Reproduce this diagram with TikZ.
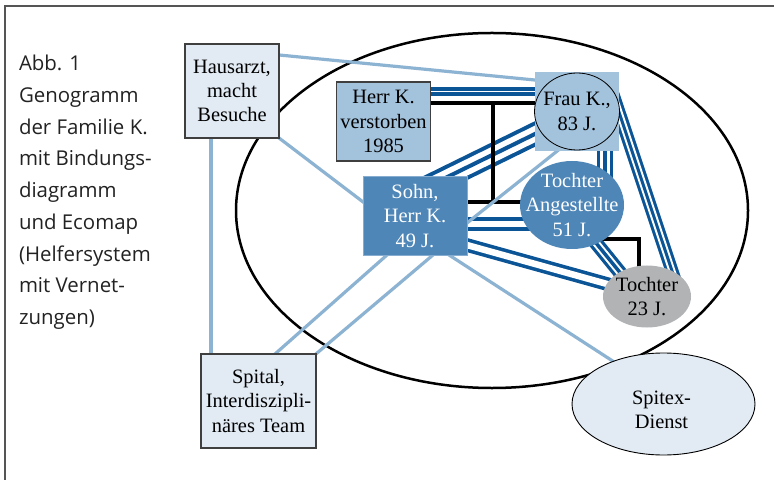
\documentclass[tikz,border=0pt]{standalone}
\usepackage{fontspec}
\setmainfont{Liberation Serif}
\newfontfamily\capfont{Open Sans}
\usetikzlibrary{calc,shapes.geometric,backgrounds}
\definecolor{lightfill}{HTML}{E2EBF4}
\definecolor{midfill}{HTML}{A3C2DC}
\definecolor{darkfill}{HTML}{4E86B8}
\definecolor{grayfill}{HTML}{B1B3B5}
\definecolor{lline}{HTML}{8DB3D3}
\definecolor{dline}{HTML}{0B5597}
\definecolor{boxline}{HTML}{3F3F3F}
\definecolor{sohnline}{HTML}{86ADD0}
\definecolor{framecol}{HTML}{555555}
\definecolor{capcol}{HTML}{222222}
\begin{document}
\begin{tikzpicture}[x=1bp,y=-1bp,line join=miter,
  every node/.style={inner sep=0pt,outer sep=0pt,align=center,font=\fontsize{20.5}{24.3}\selectfont},
  lightbox/.style={rectangle,draw=boxline,line width=1.2bp,fill=lightfill},
  midbox/.style={rectangle,draw=boxline,line width=1.2bp,fill=midfill},
  lb/.style={draw=lline,line width=3.2bp},
  blk/.style={draw=black,line width=3.6bp},
  triA/.style={preaction={draw=dline,line width=23bp},preaction={draw=white,line width=15bp},draw=dline,line width=4bp},
  triB/.style={preaction={draw=dline,line width=16.5bp},preaction={draw=white,line width=9.5bp},draw=dline,line width=3.5bp},
  triC/.style={preaction={draw=dline,line width=13bp},preaction={draw=white,line width=7bp},draw=dline,line width=3bp},
  triD/.style={preaction={draw=dline,line width=14bp},preaction={draw=white,line width=7.5bp},draw=dline,line width=3.5bp},
  dblA/.style={draw=dline,double=white,double distance=1.2bp,line width=4bp},
  dblB/.style={draw=dline,double=white,double distance=6bp,line width=3.6bp},
  dblC/.style={draw=dline,double=white,double distance=6.5bp,line width=3.6bp}
]
\useasboundingbox (0,0) rectangle (774,480);
\draw[framecol,line width=1.8bp] (5,480) -- (5,6) -- (774,6);

\node[anchor=north west,align=left,text=capcol,font=\capfont\fontsize{20.5}{31.9}\selectfont] (caption) at (19,55)
  {Abb. 1\\Genogramm\\der Familie K.\\mit Bindungs-\\diagramm\\und Ecomap\\(Helfersystem\\mit Vernet-\\zungen)};

\node[lightbox,minimum width=94bp,minimum height=94bp] (haus) at (232,91) {Hausarzt,\\macht\\Besuche};
\node[midbox,minimum width=94bp,minimum height=79bp] (herr) at (383.5,121.5) {Herr K.\\verstorben\\1985};
\node[fill=midfill,minimum width=84bp,minimum height=79bp] (frau) at (577,111.5) {};
\node[ellipse,draw=black,line width=0.8bp,minimum width=85bp,minimum height=77bp,
      label={center:{Frau K.,\\83 J.}}] (fraukreis) at (frau) {};
\node[draw=sohnline,line width=1bp,fill=darkfill,text=white,minimum width=104bp,minimum height=78bp] (sohn) at (415,216) {Sohn,\\Herr K.\\49 J.};
\node[ellipse,fill=darkfill,minimum width=104bp,minimum height=88bp,
      label={[text=white]center:{Tochter\\Angestellte\\51 J.}}] (tang) at (572,205) {};
\node[ellipse,fill=grayfill,minimum width=88bp,minimum height=62bp,
      label={center:{Tochter\\23 J.}}] (t23) at (647,296.5) {};
\node[lightbox,minimum width=115bp,minimum height=94bp] (spital) at (258.5,401) {Spital,\\Interdiszipli-\\näres Team};
\node[ellipse,draw=black,line width=0.9bp,fill=lightfill,minimum width=183bp,minimum height=102bp,
      label={[xshift=-2bp,yshift=-6bp]center:{Spitex-\\Dienst}}] (spitex) at (663.5,404) {};

\begin{scope}[on background layer]
\draw[line width=2.5bp] (492,210.5) ellipse [x radius=256bp, y radius=177.5bp];
% dark blue relationship lines
\draw[dblA] ($(herr)+(36.5,-30)$) -- ($(frau)+(-32,-20)$);
\draw[triA] ($(frau)+(-31.3,17.2)$) -- ($(sohn)+(11,-28.5)$);
\draw[triB] ($(frau)+(28,30)$) -- ($(tang)+(33,-20)$);
\draw[triC] ($(frau)+(32.5,-27.9)$) -- ($(t23)+(30,-10.5)$);
\draw[dblB] ($(sohn)+(40,8)$) -- ($(tang)+(-30,19)$);
\draw[dblC] ($(sohn)+(40,25.7)$) -- ($(t23)+(-27,-8.9)$);
\draw[triD] ($(tang)+(17.7,30.2)$) -- ($(t23)+(-18.7,-13.7)$);
% black genogram lines
\draw[blk] ($(herr)+(36.5,-18.5)$) -- ($(frau)+(-32,-8.5)$);
\coordinate (ehe) at ($(herr)+(109.5,-18.5)$);
\draw[blk] ($(sohn)+(40,-14)$) -- ($(tang)+(-30,-3)$);
\draw[blk,line cap=rect] (ehe) -- ($(sohn)+(78,-14)$);
\draw[blk] ($(tang)+(28,34)$) -| ($(t23)+(-8,-15)$);
% light blue helper lines
\draw[lb] ($(haus)+(38,-36.9)$) -- ($(frau)+(-32,-30.5)$);
\draw[lb] ($(haus)+(39,40.9)$) -- ($(sohn)+(-44,-8)$);
\draw[lb] ($(haus)+(-21,40)$) -- ($(spital)+(-47.5,-40)$);
\draw[lb] ($(spital)+(10.5,-41.7)$) -- ($(sohn)+(-22,33.7)$);
\draw[lb] ($(spital)+(51.5,-42)$) -- ($(sohn)+(24,33.9)$);
\draw[lb] ($(frau)+(-12,33.3)$) -- ($(sohn)+(44,13.4)$);
\draw[lb] ($(sohn)+(28,35.1)$) -- ($(spitex)+(-38.5,-35)$);
\end{scope}
\end{tikzpicture}
\end{document}
